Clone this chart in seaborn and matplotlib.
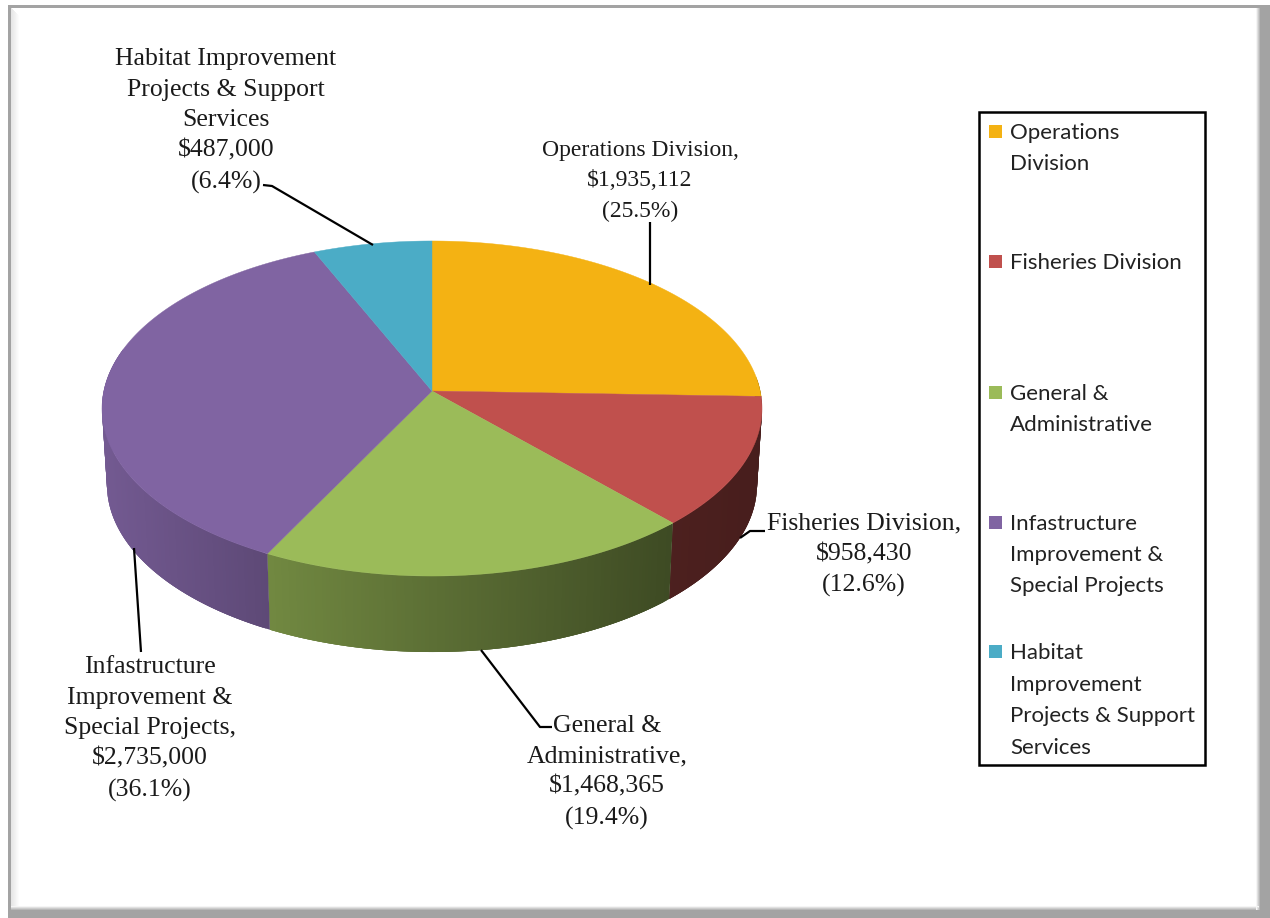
import numpy as np
import matplotlib
matplotlib.use("Agg")
import matplotlib.pyplot as plt
from matplotlib.patches import Rectangle
import seaborn as sns

# Budget data

categories = ["Operations Division", "Fisheries Division", "General & Administrative",
              "Infastructure Improvement & Special Projects",
              "Habitat Improvement Projects & Support Services"]
amounts = [1935112, 958430, 1468365, 2735000, 487000]
percents = [25.5, 12.6, 19.4, 36.1, 6.4]
slice_colors = ["#F4B213", "#C0504D", "#9BBB59", "#8064A2", "#4BACC6"]

label_names = ["Operations Division,", "Fisheries Division,", "General &\nAdministrative,",
               "Infastructure\nImprovement &\nSpecial Projects,",
               "Habitat Improvement\nProjects & Support\nServices"]
legend_names = ["Operations\nDivision", "Fisheries Division", "General &\nAdministrative",
                "Infastructure\nImprovement &\nSpecial Projects",
                "Habitat\nImprovement\nProjects & Support\nServices"]

sns.set_theme(style="white")
palette = sns.color_palette(slice_colors)

fig = plt.figure(figsize=(12.7, 9.18), dpi=100)
ax = fig.add_axes([0, 0, 1, 1])
ax.set_xlim(0, 1270)
ax.set_ylim(918, 0)
ax.axis("off")

# Frame

ax.add_patch(Rectangle((8, 5), 1262, 913, fc="#a3a3a3", ec="none", zorder=0))
ax.add_patch(Rectangle((11, 8), 1248, 902, fc="white", ec="none", zorder=0))
for i in range(8):
    shade = str(round(0.90 + i * 0.0125, 3))
    ax.add_patch(Rectangle((11 + i, 8 + i), 1, 902 - i, fc=shade, ec="none", zorder=0.1))
for i in range(4):
    shade = str(round(0.72 + i * 0.08, 3))
    ax.add_patch(Rectangle((1259 - i, 8), 1, 902, fc=shade, ec="none", zorder=0.1))
    ax.add_patch(Rectangle((11, 909 - i), 1248, 1, fc=shade, ec="none", zorder=0.1))

# Perspective projection of the pie disc

CX, CY = 432, 391
SCALE_X, SCALE_Y, TILT = 328.2, 165.7, 0.1045
DEPTH, SHRINK = 76, 0.985


def top_edge(theta):
    x, y = np.sin(theta), np.cos(theta)
    w = 1 + TILT * y
    return CX + SCALE_X * x / w, CY - SCALE_Y * y / w


def bottom_edge(theta):
    x, y = top_edge(theta)
    return CX + (x - CX) * SHRINK, y + DEPTH


# Darker side wall towards the right
wall_x = [100, 270, 672, 765]
wall_shade = [0.90, 0.73, 0.40, 0.37]

fractions = np.array(amounts) / sum(amounts)
stops = np.concatenate([[0], np.cumsum(fractions)]) * 2 * np.pi

for i, color in enumerate(palette):
    start, end = stops[i], stops[i + 1]

    # side wall, only the front part shows
    lo, hi = max(start, np.radians(85)), min(end, np.radians(285))
    if hi > lo:
        steps = np.linspace(lo, hi, int((hi - lo) * 90) + 2)
        for j in range(len(steps) - 1):
            a = steps[j]
            b = steps[min(j + 3, len(steps) - 1)]  # overlap the next strips, no seams
            xa, ya = top_edge(a)
            xb, yb = top_edge(b)
            xc, yc = bottom_edge(b)
            xd, yd = bottom_edge(a)
            f = np.interp(xa, wall_x, wall_shade)
            shaded = tuple(c * f for c in color)
            ax.fill([xa, xb, xc, xd], [ya, yb, yc, yd], color=shaded, lw=0, zorder=1)

for i, color in enumerate(palette):
    t = np.linspace(stops[i], stops[i + 1], 200)
    xs, ys = top_edge(t)
    ax.fill(np.r_[CX, xs], np.r_[CY, ys], color=color, lw=0.3, zorder=2)

# Data labels and leader lines

label_pos = [(640, 181), (864, 555), (607, 772), (150, 729), (226, 121)]
label_size = [17, 18.5, 18.5, 18.5, 18.5]
label_spacing = [1.578, 1.5, 1.5, 1.5, 1.5]
leaders = [
    [(650, 285), (650, 222)],
    [(740, 538), (750, 531), (765, 531)],
    [(481, 650), (540, 727), (552, 727)],
    [(134, 548), (141, 652)],
    [(373, 245), (272, 186), (263, 185)],
]

for i in range(len(categories)):
    text = f"{label_names[i]}\n${amounts[i]:,}\n({percents[i]}%)"
    ax.text(label_pos[i][0], label_pos[i][1], text, ha="center", va="center",
            family="Liberation Serif", fontsize=label_size[i],
            linespacing=label_spacing[i], color="#1a1a1a", zorder=4)
    lx, ly = zip(*leaders[i])
    ax.plot(lx, ly, color="black", lw=1.6, zorder=3, solid_capstyle="butt")

# Legend box

ax.add_patch(Rectangle((979, 112), 226, 653, fc="white", ec="black", lw=1.8, zorder=3))
legend_top = [131, 261, 392, 522, 651]
legend_spacing = [1.67, 1.67, 1.67, 1.69, 1.72]
for i, color in enumerate(palette):
    ax.add_patch(Rectangle((989, legend_top[i] - 6), 13, 13, fc=color, ec="none", zorder=4))
    ax.text(1010, legend_top[i] - 8, legend_names[i], ha="left", va="top",
            family="Lato", fontsize=16, linespacing=legend_spacing[i], color="#222222", zorder=4)

fig.savefig("out.png", dpi=100)
